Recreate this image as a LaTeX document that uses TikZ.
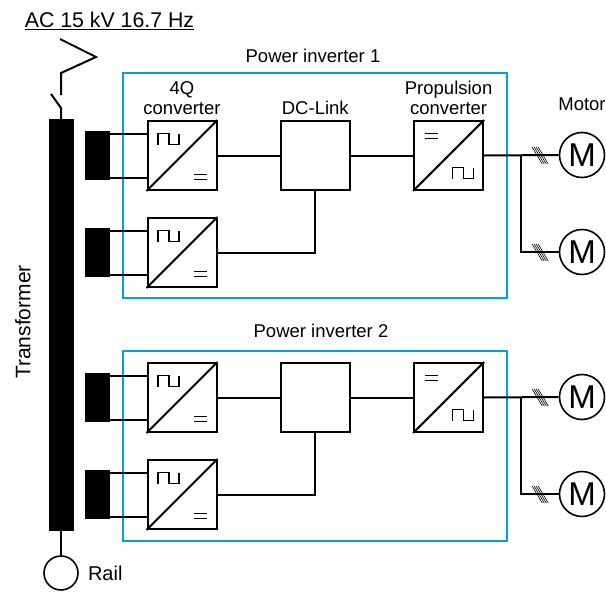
\documentclass[tikz,border=0pt]{standalone}
\usepackage{fontspec}
\setmainfont{Liberation Sans}
\usepackage{tikz}
\usetikzlibrary{positioning, calc}

\begin{document}
\begin{tikzpicture}[
    x=1pt, y=-1pt,
    node distance=62.3pt,
    conv/.style={rectangle, draw=black, line width=2pt, minimum width=69pt, minimum height=69pt, inner sep=0pt, fill=white},
    link/.style={rectangle, draw=black, line width=2pt, minimum width=69pt, minimum height=69pt, inner sep=0pt},
    inverter/.style={rectangle, draw=invblue, line width=2pt, inner sep=0pt},
    core/.style={rectangle, fill=black, inner sep=0pt, minimum width=25pt, minimum height=49pt},
    motor/.style={circle, draw=black, line width=1.6pt, minimum size=45pt, inner sep=0pt, font=\fontsize{33}{33}\selectfont},
    wire/.style={draw=black, line width=2pt},
    lbl/.style={font=\fontsize{18.5}{20}\selectfont, align=center, inner sep=0pt}
]
    \definecolor{invblue}{RGB}{0,163,214}
    \useasboundingbox (0,0) rectangle (606,592);

    \node [inverter, minimum width=384pt, minimum height=225pt] (inv1) at (315,185.5) {};
    \node [inverter, minimum width=384pt, minimum height=190pt] (inv2) at (315,446) {};
    \node [lbl, above=9pt of inv1, xshift=-2pt] (inv1lbl) {Power inverter 1};
    \node [lbl, above=12pt of inv2, xshift=6pt] (inv2lbl) {Power inverter 2};

    % transformer
    \node [rectangle, fill=black, inner sep=0pt, minimum width=25pt, minimum height=412pt] (trafo) at (61.5,325) {};
    \node [lbl, rotate=90, font=\fontsize{21}{23}\selectfont] (trafolbl) at (23,322) {Transformer};
    \node [core] (core1) at (97.5,155.5) {};
    \node [core] (core2) at (97.5,252.5) {};
    \node [core] (core3) at (97.5,397.5) {};
    \node [core] (core4) at (97.5,494.5) {};

    % converters
    \node [conv] (acdc1) at (182,155.5) {};
    \node [conv] (acdc2) at (182,252.5) {};
    \node [conv] (acdc3) at (182,397.5) {};
    \node [conv] (acdc4) at (182,494.5) {};
    \node [link, right=of acdc1] (dc1) {};
    \node [link, right=of acdc3] (dc2) {};
    \node [conv, right=of dc1] (prop1) {};
    \node [conv, right=of dc2] (prop2) {};

    \node [lbl, above=5pt of acdc1] (acdc1lbl) {4Q\\converter};
    \node [lbl, above=5pt of dc1] (dc1lbl) {DC-Link};
    \node [lbl, above=5pt of prop1] (prop1lbl) {Propulsion\\converter};

    % motors
    \node [motor] (m1) at (582,155) {M};
    \node [motor] (m2) at (582,252) {M};
    \node [motor] (m3) at (582,397) {M};
    \node [motor] (m4) at (582,494) {M};
    \node [lbl, above=21pt of m1] (motorlbl) {Motor};

    % rail and catenary
    \node [circle, draw=black, line width=1.6pt, minimum size=34pt, inner sep=0pt] (rail) at (61,573) {};
    \node [lbl, right=9pt of rail, font=\fontsize{20}{22}\selectfont] (raillbl) {Rail};
    \node [lbl, font=\fontsize{21.3}{23}\selectfont] (aclbl) at (109.5,21) {\underline{AC 15 kV 16.7 Hz}};
    \coordinate (sw1) at (61,108);
    \coordinate (sw2) at (51,94);
    \coordinate (sw3) at (61,95);
    \coordinate (sw4) at (61,73);
    \coordinate (sw5) at (96,57);
    \coordinate (sw6) at (60,39);

    \draw [wire] (trafo.north -| sw1) -- (sw1) -- (sw2);
    \draw [wire] (sw3) -- (sw4) -- (sw5) -- (sw6);
    \draw [wire] (trafo.south -| rail) -- (rail);

    % windings to converters
    \foreach \k in {1,2,3,4} {
        \draw [wire] ($(core\k.east)+(0,-22)$) -- ($(acdc\k.west)+(0,-22)$);
        \draw [wire] ($(core\k.east)+(0,22)$) -- ($(acdc\k.west)+(0,22)$);
    }

    % symbols in the boxes
    \foreach \k in {acdc1,acdc2,acdc3,acdc4,prop1,prop2} {
        \draw [wire] (\k.south west) -- (\k.north east);
    }
    \foreach \k in {acdc1,acdc2,acdc3,acdc4} {
        \draw [line width=1.2pt] ($(\k.center)+(-24,-11)$) -- ++(0,-11) -- ++(11,0) -- ++(0,11) -- ++(10,0) -- ++(0,-11);
        \draw [line width=1.2pt] ($(\k.center)+(12,19)$) -- ++(13,0) ++(-13,5) -- ++(13,0);
    }
    \foreach \k in {prop1,prop2} {
        \draw [line width=1.2pt] ($(\k.center)+(-24,-22)$) -- ++(13,0) ++(-13,5) -- ++(13,0);
        \draw [line width=1.2pt] ($(\k.center)+(4,23)$) -- ++(0,-11) -- ++(11,0) -- ++(0,11) -- ++(10,0) -- ++(0,-11);
    }

    % links
    \draw [wire] (acdc1) -- (dc1);
    \draw [wire] (dc1) -- (prop1);
    \draw [wire] (acdc3) -- (dc2);
    \draw [wire] (dc2) -- (prop2);
    \draw [wire] (acdc2.east) -| (dc1.south);
    \draw [wire] (acdc4.east) -| (dc2.south);

    % motor feeds
    \draw [wire] (prop1.east) -- (m1.west);
    \draw [wire] (prop2.east) -- (m3.west);
    \draw [wire] (521,155) |- (m2.west);
    \draw [wire] (521,397) |- (m4.west);
    \foreach \k in {m1,m2,m3,m4} {
        \foreach \d in {-3,-1,1,3} {
            \draw [line width=0.6pt] ($(\k.west)+(-23.5+\d,-8)$) -- ++(10,17);
        }
    }
\end{tikzpicture}
\end{document}
